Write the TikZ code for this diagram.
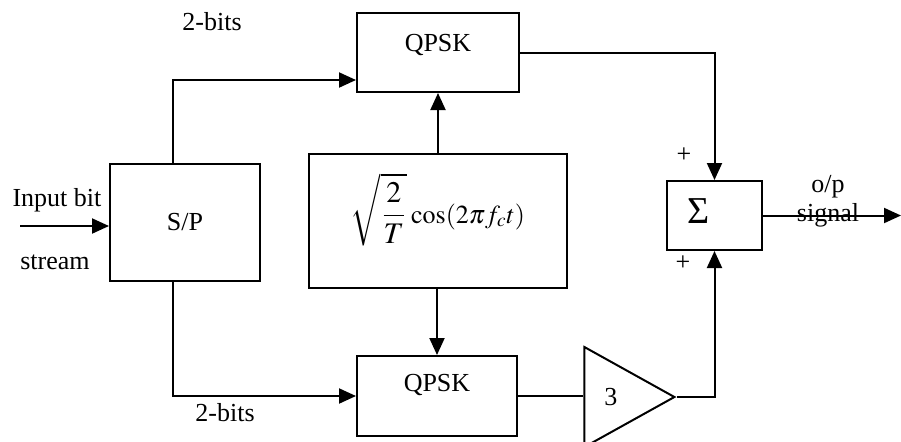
\documentclass[tikz,border=0pt]{standalone}
\usepackage{amsmath}
\usepackage{mathptmx}
\usepackage{fontspec}
\setmainfont{Liberation Serif}
\usetikzlibrary{arrows.meta, positioning, shapes.geometric}

\begin{document}
\begin{tikzpicture}[x=0.5pt, y=-0.5pt, line width=1pt,
		every node/.style={font=\fontsize{13}{15}\selectfont},
		blk/.style={draw, inner sep=0pt},
		sig/.style={-{Triangle[length=8.5pt,width=7.5pt]}}]
			\useasboundingbox (0,0) rectangle (901,441);
			\node[blk, minimum width=75pt, minimum height=58.5pt] (sp) at (185,222.5) {S/P};
			\node[blk, minimum width=81pt, minimum height=39.5pt, text height=8.6pt, text depth=10pt] (qtop) at (438,52.5) {QPSK};
			\node[blk, minimum width=80pt, minimum height=40pt, text height=8.6pt, text depth=13pt] (qbot) at (437,396) {QPSK};
			\node[blk, minimum width=129pt, minimum height=67pt, text height=20pt, text depth=18pt] (osc) at (438,221) {\scalebox{1.15}{$\displaystyle\sqrt{\frac{2}{T}}$}\,$\cos(2\pi f_c t)$};
			\node[blk, minimum height=34.5pt, text width=27.5pt, inner xsep=10pt, align=left, font=\fontsize{19}{20}\selectfont, text height=12.5pt, text depth=5pt] (sum) at (714.5,215.5) {Σ};
			\node[draw, isosceles triangle, isosceles triangle stretches, shape border rotate=0, minimum width=50pt, minimum height=45pt, inner sep=0pt, anchor=apex] (amp) at (677,397) {3};
			\coordinate (in) at (20,226);
			\coordinate (out) at (901,210);
			% labels
			\node (inlbl) at (57,200) {Input bit};
			\node (stlbl) at (55,262) {stream};
			\node (bitstop) at (212,22) {2-bits};
			\node (bitsbot) at (225,413) {2-bits};
			\node (plustop) at (684,155) {+};
			\node (plusbot) at (683,263) {+};
			\node (oplbl) at (828,187) {o/p};
			\node (sglbl) at (828,215) {signal};
			% connectors
			\draw[sig] (in) -- (in -| sp.west);
			\draw[sig] ([xshift=-6pt]sp.north) |- ([yshift=-13.75pt]qtop.west);
			\draw[sig] ([xshift=-6pt]sp.south) |- (qbot.west);
			\draw[sig] (osc.north -| qtop.south) -- (qtop.south);
			\draw[sig] (osc.south -| qbot.north) -- (qbot.north);
			\draw[sig] (qtop.east) -| (sum.north);
			\draw (qbot.east) -- (qbot.east -| amp.west);
			\draw[sig] (amp.apex) -| (sum.south);
			\draw[sig] (sum.east) -- (sum.east -| out);
		\end{tikzpicture}
\end{document}
